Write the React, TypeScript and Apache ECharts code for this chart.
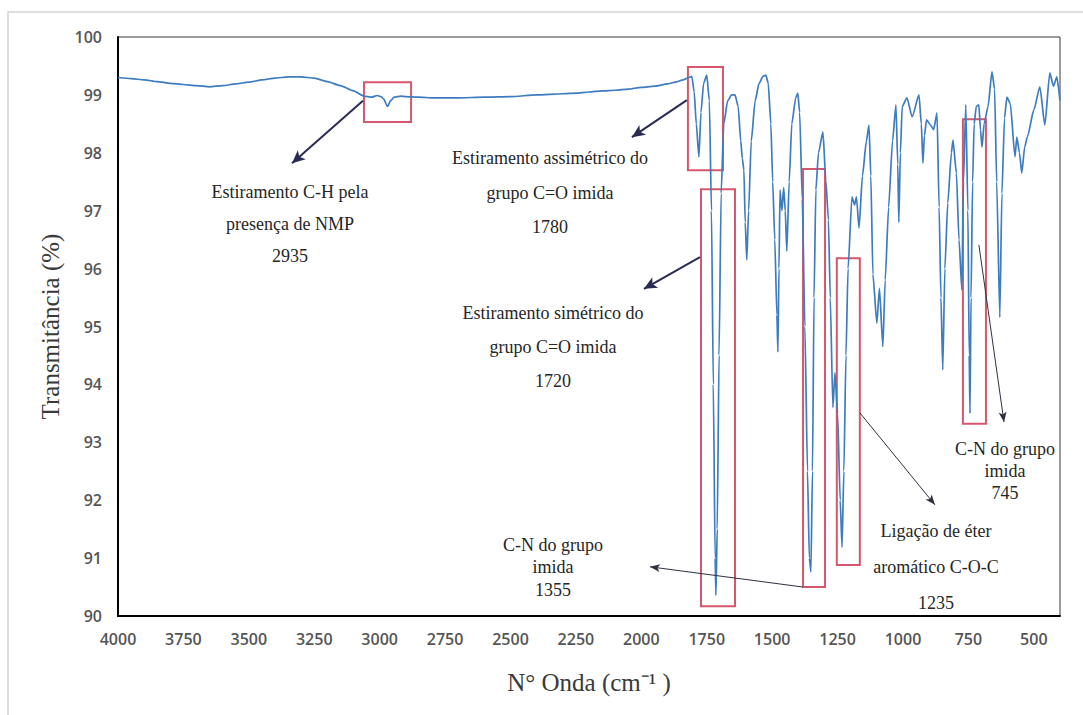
import React, { useEffect, useRef } from "react";
import * as echarts from "echarts";

// Spectrum (wavenumber cm-1, transmittance %)
const wavenumbers = [
  4000, 3950, 3900, 3850, 3800, 3750, 3700, 3650, 3600, 3550, 3500, 3450, 3400, 3350, 3300, 3250, 3200, 3150, 3100, 3060,
  3030, 3010, 2995, 2985, 2970, 2958, 2945, 2920, 2900, 2850, 2800, 2700, 2600, 2500, 2400, 2300, 2250, 2200, 2150, 2100,
  2050, 2000, 1950, 1900, 1870, 1840, 1820, 1807, 1798, 1790, 1780, 1772, 1762, 1750, 1740, 1732, 1725, 1718, 1715, 1710,
  1703, 1695, 1685, 1670, 1655, 1642, 1630, 1620, 1614, 1608, 1603, 1597, 1590, 1580, 1565, 1550, 1535, 1524, 1515, 1505,
  1498, 1490, 1482, 1478, 1474, 1470, 1463, 1456, 1450, 1444, 1435, 1425, 1410, 1402, 1395, 1385, 1375, 1365, 1358, 1352,
  1346, 1340, 1333, 1323, 1306, 1295, 1285, 1278, 1268, 1260, 1250, 1240, 1233, 1226, 1218, 1210, 1195, 1185, 1178, 1168,
  1155, 1140, 1130, 1123, 1115, 1100, 1090, 1077, 1068, 1055, 1040, 1027, 1020, 1016, 1010, 1003, 985, 965, 939, 930,
  924, 918, 910, 895, 883, 870, 862, 855, 848, 840, 829, 815, 809, 796, 786, 775, 769, 760, 752, 747,
  744, 740, 734, 728, 720, 710, 704, 698, 690, 675, 660, 650, 642, 630, 622, 612, 603, 590, 572, 565,
  555, 546, 535, 525, 500, 477, 458, 439, 425, 412, 400,
];
const transmittance = [
  99.3, 99.28, 99.26, 99.23, 99.2, 99.18, 99.16, 99.14, 99.16, 99.19, 99.22, 99.26, 99.29, 99.31, 99.31, 99.29, 99.23, 99.16, 99.07, 98.98,
  98.96, 98.99, 98.97, 98.93, 98.8, 98.9, 98.96, 98.98, 98.97, 98.96, 98.95, 98.95, 98.96, 98.97, 99.0, 99.02, 99.03, 99.05, 99.07, 99.08,
  99.1, 99.13, 99.15, 99.19, 99.22, 99.26, 99.3, 99.32, 99.05, 98.5, 97.93, 98.7, 99.2, 99.34, 98.9, 97.0, 94.0, 91.0, 90.36, 91.5,
  94.5, 97.3, 98.5, 98.9, 99.0, 99.0, 98.8, 98.2, 97.9, 97.7, 96.8, 96.15, 97.0, 98.2, 98.9, 99.2, 99.32, 99.34, 99.2, 98.5,
  97.5, 96.5, 95.2, 94.56, 96.0, 97.36, 97.0, 97.4, 97.0, 96.3, 97.5, 98.5, 98.95, 99.03, 98.7, 97.2, 95.0, 92.5, 91.0, 90.76,
  92.5, 95.5, 97.36, 98.0, 98.36, 97.53, 96.84, 95.5, 93.6, 94.2, 93.5, 92.0, 91.19, 92.5, 94.5, 96.0, 97.24, 97.1, 97.24, 96.7,
  97.6, 98.2, 98.48, 97.6, 95.9, 95.06, 95.66, 94.65, 95.8, 97.06, 98.2, 98.83, 97.8, 96.8, 98.0, 98.8, 98.95, 98.62, 99.0, 98.5,
  97.82, 98.3, 98.57, 98.48, 98.4, 98.69, 97.06, 95.5, 94.25, 96.0, 97.13, 98.0, 98.22, 97.65, 96.5, 95.63, 97.5, 98.83, 97.0, 94.5,
  93.5, 95.5, 97.5, 98.5, 98.8, 98.83, 98.4, 98.1, 98.5, 98.8, 99.4, 99.1, 97.5, 95.16, 97.3, 98.6, 98.96, 98.85, 97.93, 98.27,
  98.0, 97.65, 98.1, 98.27, 98.74, 99.14, 98.48, 99.38, 99.15, 99.31, 98.9,
];

const xTickValues = [4000, 3750, 3500, 3250, 3000, 2750, 2500, 2250, 2000, 1750, 1500, 1250, 1000, 750, 500];

// Highlighted bands: wavenumber range and transmittance range
const boxWavenumbers = [
  [3060, 2880],
  [1822, 1688],
  [1772, 1642],
  [1382, 1298],
  [1253, 1165],
  [771, 683],
];
const boxTransmittance = [
  [99.22, 98.53],
  [99.48, 97.7],
  [97.37, 90.17],
  [97.72, 90.5],
  [96.18, 90.88],
  [98.58, 93.32],
];

// Arrows from bands to labels (data coordinates)
const arrowStart = [
  [3064, 98.9],
  [1826, 98.91],
  [1776, 96.2],
  [1382, 90.5],
  [1165, 93.51],
  [710, 96.41],
];
const arrowEnd = [
  [3335, 97.82],
  [2036, 98.27],
  [1990, 95.65],
  [1967, 90.85],
  [878, 91.92],
  [614, 93.35],
];

const annotationTexts = [
  ["Estiramento C-H pela", "presença de NMP", "2935"],
  ["Estiramento assimétrico do", "grupo C=O imida", "1780"],
  ["Estiramento simétrico do", "grupo C=O imida", "1720"],
  ["C-N do grupo", "imida", "1355"],
  ["Ligação de éter", "aromático C-O-C", "1235"],
  ["C-N do grupo", "imida", "745"],
];

// layout of annotation texts (pixel centre x, line centres y)
const annotationLayout = [
  { x: 290, ys: [192, 224, 256] },
  { x: 550, ys: [158, 193, 227] },
  { x: 553, ys: [313, 347, 381] },
  { x: 553, ys: [545, 567, 590] },
  { x: 936, ys: [531, 567, 603] },
  { x: 1005, ys: [449, 471, 493] },
];

const SERIF = "Liberation Serif, Times New Roman, serif";

export default function App() {
  const ref = useRef<HTMLDivElement>(null);

  useEffect(() => {
    if (!ref.current) return;
    const chart = echarts.init(ref.current, null, { renderer: "svg" });

    const seriesData = wavenumbers.map((w, i) => [w, transmittance[i]]);

    const markAreaData = boxWavenumbers.map((nu, i) => [
      { xAxis: nu[0], yAxis: boxTransmittance[i][0] },
      { xAxis: nu[1], yAxis: boxTransmittance[i][1] },
    ]);

    const markLineData = arrowStart.map((s, i) => {
      const bold = i < 3;
      return [
        {
          coord: s,
          symbol: "none",
          lineStyle: { color: bold ? "#2a2b55" : "#2e3040", width: bold ? 2 : 1 },
        },
        { coord: arrowEnd[i], symbol: "arrow", symbolSize: bold ? [9, 13] : [6, 10] },
      ];
    });

    const graphics: any[] = [
      {
        type: "rect",
        shape: { x: 8, y: 12, width: 1200, height: 800 },
        style: { fill: "none", stroke: "#d4d4d4", lineWidth: 1.5 },
        silent: true,
        z: -10,
      },
    ];
    annotationTexts.forEach((lines, i) => {
      lines.forEach((t, j) => {
        graphics.push({
          type: "text",
          x: annotationLayout[i].x,
          y: annotationLayout[i].ys[j],
          style: {
            text: t,
            fill: "#262626",
            font: "18px " + SERIF,
            textAlign: "center",
            textVerticalAlign: "middle",
          },
          z: 10,
        });
      });
    });

    chart.setOption({
      animation: false,
      backgroundColor: "#ffffff",
      grid: {
        left: 118,
        right: 23,
        top: 37,
        bottom: 99,
        show: true,
        borderColor: "#3a3a3a",
        borderWidth: 1,
        backgroundColor: "transparent",
      },
      xAxis: {
        type: "value",
        inverse: true,
        min: 400,
        max: 4000,
        name: "N° Onda (cm⁻¹ )",
        nameLocation: "middle",
        nameGap: 54,
        nameTextStyle: { fontFamily: "Liberation Serif", fontSize: 25, color: "#3a3a3a" },
        axisLine: { show: true, lineStyle: { color: "#000", width: 2 } },
        axisTick: { show: false },
        splitLine: { show: false },
        axisLabel: {
          customValues: xTickValues,
          formatter: (v: number) => String(v),
          margin: 15,
          fontFamily: "Open Sans",
          fontSize: 16,
          fontWeight: 600,
          color: "#555",
        },
      },
      yAxis: {
        type: "value",
        min: 90,
        max: 100,
        interval: 1,
        name: "Transmitância (%)",
        nameLocation: "middle",
        nameGap: 55,
        nameTextStyle: { fontFamily: "Liberation Serif", fontSize: 25, color: "#3a3a3a" },
        axisLine: { show: true, lineStyle: { color: "#000", width: 2 } },
        axisTick: { show: false },
        splitLine: { show: false },
        axisLabel: {
          formatter: (v: number) => String(v),
          margin: 16,
          fontFamily: "Open Sans",
          fontSize: 16,
          fontWeight: 600,
          color: "#555",
        },
      },
      series: [
        {
          type: "line",
          data: seriesData,
          showSymbol: false,
          smooth: 0.2,
          smoothMonotone: "x",
          lineStyle: { color: "#3d7cc0", width: 1.7 },
          itemStyle: { color: "#3d7cc0" },
          markArea: {
            silent: true,
            label: { show: false },
            itemStyle: { color: "rgba(0,0,0,0)", borderColor: "#d6576b", borderWidth: 2 },
            data: markAreaData,
          },
          markLine: {
            silent: true,
            animation: false,
            label: { show: false },
            symbol: ["none", "arrow"],
            lineStyle: { type: "solid", color: "#2a2b55", width: 1 },
            data: markLineData,
          },
        },
      ],
      graphic: graphics,
    });

    return () => chart.dispose();
  }, []);

  return (
    <div
      ref={ref}
      style={{ position: "absolute", left: 0, top: 0, width: 1083, height: 715, background: "#fff" }}
    />
  );
}
